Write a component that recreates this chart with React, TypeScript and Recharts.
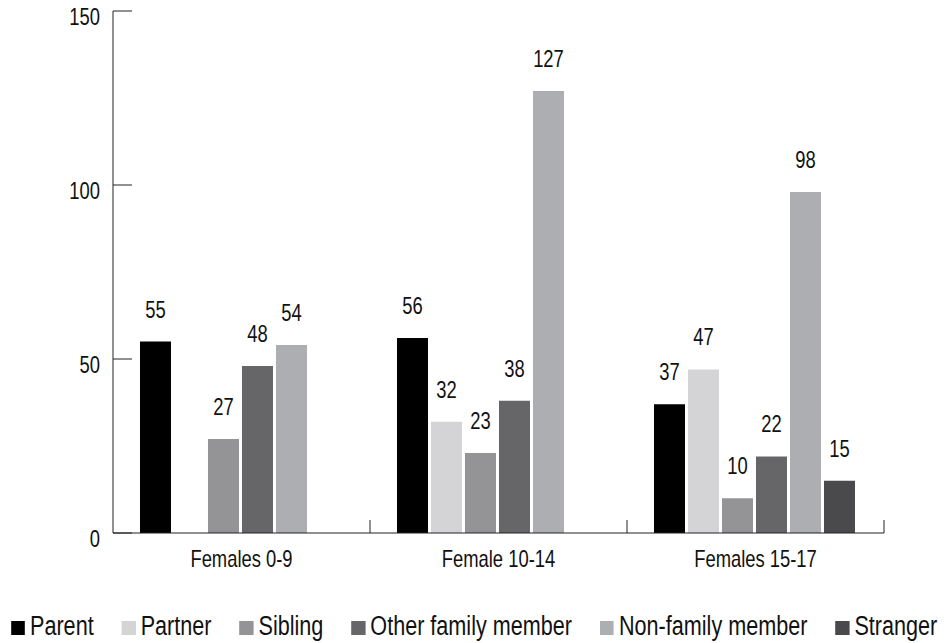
import React from 'react';
import { BarChart, Bar, XAxis, YAxis, Legend, LabelList } from 'recharts';

// categories and series values
const groups = ['Females 0-9', 'Female 10-14', 'Females 15-17'];
const parent = [55, 56, 37];
const partner = [null, 32, 47];
const sibling = [27, 23, 10];
const otherFamily = [48, 38, 22];
const nonFamily = [54, 127, 98];
const stranger = [null, null, 15];
const yTicks = [0, 50, 100, 150];

const FONT = "'Liberation Sans', Arial, sans-serif";
// the reference uses a narrow face; squeeze the regular one horizontally
const NARROW = 0.8;

const series = [
  { key: 'parent', name: 'Parent', color: '#000000', values: parent },
  { key: 'partner', name: 'Partner', color: '#d4d4d6', values: partner },
  { key: 'sibling', name: 'Sibling', color: '#949497', values: sibling },
  { key: 'other', name: 'Other family member', color: '#666668', values: otherFamily },
  { key: 'nonfamily', name: 'Non-family member', color: '#adaeb1', values: nonFamily },
  { key: 'stranger', name: 'Stranger', color: '#4a4a4c', values: stranger },
];

const data = groups.map((g, i) => {
  const row: any = { name: g };
  series.forEach((s) => {
    row[s.key] = s.values[i];
  });
  return row;
});

const NarrowText = ({ x, y, anchor, children, baseline }: any) => (
  <text
    transform={`translate(${x},${y}) scale(${NARROW},1)`}
    x={0}
    y={0}
    textAnchor={anchor}
    dominantBaseline={baseline}
    fontSize={23}
    fill="#111"
    style={{ fontFamily: FONT }}
  >
    {children}
  </text>
);

// category label plus the small upward tick at the right edge of each group
const CategoryTick = (props: any) => {
  const { x, y, payload } = props;
  const half = payload && payload.offset ? payload.offset : 0;
  return (
    <g>
      <line x1={x + half} x2={x + half} y1={y - 13} y2={y} stroke="#222" strokeWidth={1} />
      <NarrowText x={x} y={y + 34} anchor="middle">
        {payload.value}
      </NarrowText>
    </g>
  );
};

const ValueTick = (props: any) => {
  const { x, y, payload } = props;
  return (
    <NarrowText x={x} y={y + 6} anchor="end" baseline="central">
      {payload.value}
    </NarrowText>
  );
};

const BarValue = (props: any) => {
  const { x, y, width, value } = props;
  if (value === null || value === undefined) return null;
  return (
    <NarrowText x={x + width / 2} y={y - 24} anchor="middle">
      {value}
    </NarrowText>
  );
};

const LegendBox = () => (
  <div style={{ width: 947 / NARROW, transform: `scaleX(${NARROW})`, transformOrigin: 'left top' }}>
    <div
      style={{
        display: 'flex',
        alignItems: 'center',
        gap: 28 / NARROW,
        paddingLeft: 11 / NARROW,
        fontFamily: FONT,
        fontSize: 27,
        color: '#111',
        height: 36,
        lineHeight: '30px',
      }}
    >
      {series.map((s) => (
        <div key={s.key} style={{ display: 'flex', alignItems: 'center', whiteSpace: 'nowrap' }}>
          <span
            style={{
              display: 'inline-block',
              width: 14 / NARROW,
              height: 14,
              background: s.color,
              marginRight: 5 / NARROW,
              marginTop: 4,
            }}
          />
          <span>{s.name}</span>
        </div>
      ))}
    </div>
  </div>
);

export default function App() {
  return (
    <div style={{ position: 'absolute', left: 0, top: 0, width: 947, height: 643, background: '#fff', fontFamily: FONT, overflow: 'hidden' }}>
      <BarChart
        width={947}
        height={643}
        data={data}
        margin={{ top: 11, right: 63, bottom: 24, left: 0 }}
        barGap={3}
        barCategoryGap="10.5%"
      >
        <XAxis
          dataKey="name"
          height={50}
          axisLine={{ stroke: '#222' }}
          tickLine={false}
          tickSize={0}
          tickMargin={0}
          tick={<CategoryTick />}
          interval={0}
        />
        <YAxis
          width={113}
          domain={[0, 150]}
          ticks={yTicks}
          axisLine={{ stroke: '#222' }}
          tickLine={{ stroke: '#222' }}
          tickSize={-19}
          tickMargin={32}
          tick={<ValueTick />}
          interval={0}
        />
        <Legend
          verticalAlign="bottom"
          content={<LegendBox />}
          wrapperStyle={{ left: 0, top: 608, width: 947, height: 36 }}
        />
        {series.map((s) => (
          <Bar key={s.key} dataKey={s.key} name={s.name} fill={s.color} isAnimationActive={false}>
            <LabelList dataKey={s.key} content={<BarValue />} />
          </Bar>
        ))}
      </BarChart>
    </div>
  );
}
